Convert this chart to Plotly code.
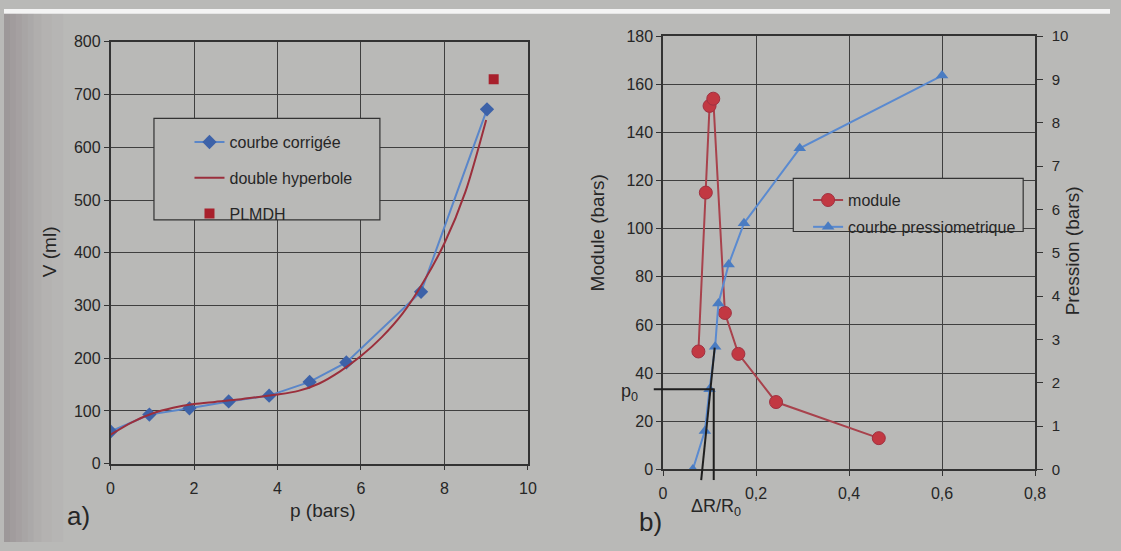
import plotly.graph_objects as go

W, H = 1121, 551
FONT = "Liberation Sans, Arial, sans-serif"
TXT = "#262626"
BG = "#b9b9b7"
GRID = "#3f3f3f"

# ---------- chart a) ----------
p_corr = [0, 0.93, 1.89, 2.83, 3.80, 4.77, 5.65, 7.44, 9.02]
V_corr = [61, 93, 105, 118, 129, 155, 192, 326, 672]
p_dh = [0, 0.5, 1, 1.5, 2, 2.5, 3, 3.5, 4, 4.5, 5, 5.5, 6, 6.5, 7, 7.5, 8, 8.5, 9]
V_dh = [55, 78, 95, 106, 113, 117, 121, 126, 131, 138, 152, 175, 204, 240, 285, 345, 418, 515, 652]
p_plmdh = [9.18]
V_plmdh = [729]

# ---------- chart b) ----------
dr_module = [0.076, 0.092, 0.100, 0.108, 0.133, 0.162, 0.243, 0.464]
module = [49, 115, 151, 154, 65, 48, 28, 13]
dr_press = [0.064, 0.090, 0.100, 0.112, 0.119, 0.141, 0.174, 0.294, 0.600]
pression = [0, 0.89, 1.85, 2.83, 3.83, 4.73, 5.68, 7.41, 9.09]

# construction lines of b) (data units: x = dR/R0, y = module scale)
p0_module = 33.3
tangent_x = [0.082, 0.111]
tangent_y = [-4.4, 50.6]
vert_x = 0.109
line_bottom = -4.4
p0_left_x = -0.02

# ---------- layout geometry (pixels) ----------
A_X0, A_X1, A_Y0, A_Y1 = 108, 531, 34, 470      # left, right, top, bottom
B_X0, B_X1, B_Y0, B_Y1 = 668, 1045, 28, 476

A_XR, A_YR = [0, 10], [0, 800]
B_XR, B_YR, B_Y3R = [0, 0.8], [0, 180], [0, 10]


def fx(px):
    return px / W


def fy(py):
    return 1 - py / H


def b_paper(xv, yv):
    xp = B_X0 + (xv - B_XR[0]) / (B_XR[1] - B_XR[0]) * (B_X1 - B_X0)
    yp = B_Y1 - (yv - B_YR[0]) / (B_YR[1] - B_YR[0]) * (B_Y1 - B_Y0)
    return fx(xp), fy(yp)


fig = go.Figure()

# a) traces
fig.add_trace(go.Scatter(
    x=p_corr, y=V_corr, mode="lines+markers", name="courbe corrigée",
    line=dict(color="#5a86c9", width=2),
    marker=dict(symbol="diamond", size=11, color="#3d62a8"),
    xaxis="x", yaxis="y", legend="legend", legendgroup="a1"))
fig.add_trace(go.Scatter(
    x=p_dh, y=V_dh, mode="lines", name="double hyperbole",
    line=dict(color="#9b2f3c", width=2, shape="spline", smoothing=0.8),
    xaxis="x", yaxis="y", legend="legend", legendgroup="a2"))
fig.add_trace(go.Scatter(
    x=p_plmdh, y=V_plmdh, mode="markers", name="PLMDH",
    marker=dict(symbol="square", size=10, color="#a8202c"),
    xaxis="x", yaxis="y", legend="legend", legendgroup="a3"))

# b) traces
fig.add_trace(go.Scatter(
    x=dr_module, y=module, mode="lines+markers", name="module",
    line=dict(color="#a8424c", width=2),
    marker=dict(symbol="circle", size=13, color="#c23842",
                line=dict(color="#a03040", width=1)),
    xaxis="x2", yaxis="y2", legend="legend2", legendgroup="b1"))
fig.add_trace(go.Scatter(
    x=dr_press, y=pression, mode="lines+markers", name="courbe pressiometrique",
    line=dict(color="#5a8ad0", width=2),
    marker=dict(symbol="triangle-up", size=11, color="#4a7cc2"),
    xaxis="x2", yaxis="y3", legend="legend2", legendgroup="b2"))

axis_common = dict(
    showgrid=True, gridcolor=GRID, gridwidth=1,
    showline=True, linecolor="#333333", linewidth=1.5,
    ticks="outside", ticklen=5, tickcolor="#333333",
    tickfont=dict(family=FONT, size=16, color=TXT),
    zeroline=False, mirror=True)

fig.update_layout(
    width=W, height=H,
    margin=dict(l=0, r=0, t=0, b=0),
    paper_bgcolor=BG, plot_bgcolor=BG,
    separators=", ",
    font=dict(family=FONT, color=TXT),
    xaxis=dict(domain=[fx(A_X0), fx(A_X1)], range=A_XR, dtick=2, tick0=0,
               anchor="y", ticklabelstandoff=4, **axis_common),
    yaxis=dict(domain=[fy(A_Y1), fy(A_Y0)], range=A_YR, dtick=100, tick0=0,
               anchor="x", **axis_common),
    xaxis2=dict(domain=[fx(B_X0), fx(B_X1)], range=B_XR, dtick=0.2, tick0=0,
                anchor="y2", ticklabelstandoff=4, **axis_common),
    yaxis2=dict(domain=[fy(B_Y1), fy(B_Y0)], range=B_YR, dtick=20, tick0=0,
                anchor="x2", **axis_common),
    yaxis3=dict(overlaying="y2", side="right", anchor="x2", range=B_Y3R,
                dtick=1, tick0=0, showgrid=False, showline=True,
                linecolor="#333333", linewidth=1.5, ticks="outside", ticklen=6,
                tickcolor="#333333", zeroline=False, ticklabelstandoff=6,
                tickfont=dict(family=FONT, size=15, color=TXT)),
    legend=dict(x=fx(188), y=fy(120), xanchor="left", yanchor="top",
                bgcolor="rgba(0,0,0,0)", borderwidth=0, tracegroupgap=12,
                font=dict(family=FONT, size=16, color=TXT)),
    legend2=dict(x=fx(815), y=fy(180), xanchor="left", yanchor="top",
                 bgcolor="rgba(0,0,0,0)", borderwidth=0, tracegroupgap=3,
                 font=dict(family=FONT, size=16, color=TXT)),
)

shapes = []
# photographic edges
shapes.append(dict(type="rect", xref="paper", yref="paper", x0=0, x1=1,
                   y0=fy(5), y1=1, fillcolor="#f4f4f4", line_width=0, layer="below"))
edge_steps = [(0, 6, 0.30), (6, 12, 0.26), (12, 18, 0.22), (18, 24, 0.18),
              (24, 30, 0.14), (30, 38, 0.10), (38, 48, 0.06), (48, 60, 0.03)]
for x0, x1, op in edge_steps:
    shapes.append(dict(type="rect", xref="paper", yref="paper", x0=fx(x0), x1=fx(x1),
                       y0=0, y1=fy(5), fillcolor="#5e4b55", opacity=op,
                       line_width=0, layer="below"))
# legend boxes
shapes.append(dict(type="rect", xref="paper", yref="paper", x0=fx(152), x1=fx(381),
                   y0=fy(218), y1=fy(113), fillcolor=BG,
                   line=dict(color="#333333", width=1.2), layer="above"))
shapes.append(dict(type="rect", xref="paper", yref="paper", x0=fx(800), x1=fx(1033),
                   y0=fy(230), y1=fy(175), fillcolor=BG,
                   line=dict(color="#333333", width=1.2), layer="above"))
# construction lines in b)
xa, ya = b_paper(tangent_x[0], tangent_y[0])
xb, yb = b_paper(tangent_x[1], tangent_y[1])
shapes.append(dict(type="line", xref="paper", yref="paper", x0=xa, y0=ya, x1=xb, y1=yb,
                   line=dict(color="#1e1e1e", width=2)))
xa, ya = b_paper(vert_x, line_bottom)
xb, yb = b_paper(vert_x, p0_module)
shapes.append(dict(type="line", xref="paper", yref="paper", x0=xa, y0=ya, x1=xb, y1=yb,
                   line=dict(color="#1e1e1e", width=2)))
xa, ya = b_paper(p0_left_x, p0_module)
xb, yb = b_paper(tangent_x[1], p0_module)
shapes.append(dict(type="line", xref="paper", yref="paper", x0=xa, y0=ya, x1=xb, y1=yb,
                   line=dict(color="#1e1e1e", width=2)))
fig.update_layout(shapes=shapes)


def ann(text, px, py, size, angle=0):
    return dict(text=text, x=fx(px), y=fy(py), xref="paper", yref="paper",
                showarrow=False, textangle=angle, xanchor="center", yanchor="middle",
                font=dict(family=FONT, size=size, color=TXT))


fig.update_layout(annotations=[
    ann("V (ml)", 46, 251, 19, -90),
    ann("p (bars)", 323, 518, 19),
    ann("a)", 76, 524, 26),
    ann("Module (bars)", 602, 231, 19, -90),
    ann("Pression (bars)", 1083, 250, 19, -90),
    ann("ΔR/R<sub>0</sub>", 722, 515, 18),
    ann("p<sub>0</sub>", 634, 396, 18),
    ann("b)", 655, 530, 26),
])

fig.write_html("out.html",
               post_script="document.body.style.margin='0';"
                           "document.body.style.background='#b9b9b7';")
